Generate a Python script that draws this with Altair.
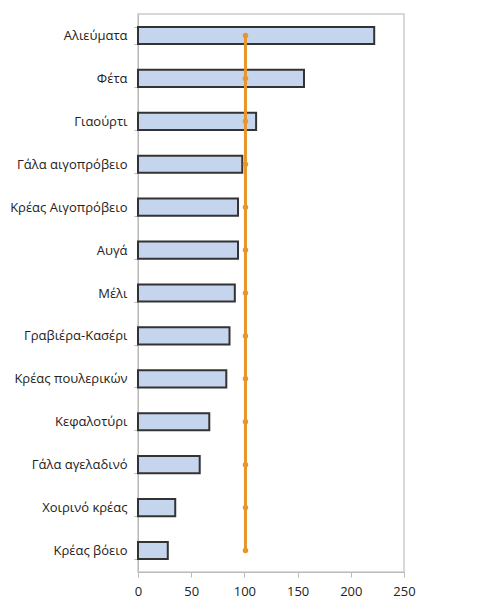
import altair as alt
import pandas as pd

categories = ["Αλιεύματα", "Φέτα", "Γιαούρτι", "Γάλα αιγοπρόβειο", "Κρέας Αιγοπρόβειο",
              "Αυγά", "Μέλι", "Γραβιέρα-Κασέρι", "Κρέας πουλερικών", "Κεφαλοτύρι",
              "Γάλα αγελαδινό", "Χοιρινό κρέας", "Κρέας βόειο"]
values = [222, 156, 111, 98, 94, 94, 91, 86, 83, 67, 58, 35, 28]
line_values = [101] * len(categories)

df = pd.DataFrame({"cat": categories, "val": values, "ref": line_values})

xscale = alt.Scale(domain=[0, 250], nice=False)

y = alt.Y("cat:N", sort=categories, title=None,
          scale=alt.Scale(paddingInner=0.6, paddingOuter=0.3),
          axis=alt.Axis(tickBand="extent", tickSize=4, tickColor="#bbbbbb",
                        domainColor="#bbbbbb", labelColor="#222222", labelFontSize=13,
                        labelFont="Open Sans", labelPadding=7, grid=False))

bars = alt.Chart(df).mark_bar(fill="#C5D5EE", stroke="#333333", strokeWidth=2).encode(
    x=alt.X("val:Q", title=None, scale=xscale,
            axis=alt.Axis(values=[0, 50, 100, 150, 200, 250], tickSize=5, tickColor="#bbbbbb",
                          domainColor="#bbbbbb", labelColor="#222222", labelFontSize=13,
                          labelFont="Open Sans", labelPadding=8, labelFlush=False, grid=False)),
    y=y,
)

line = alt.Chart(df).mark_line(color="#E8962A", strokeWidth=3,
                               point=alt.OverlayMarkDef(color="#E8962A", size=30, filled=True)).encode(
    x=alt.X("ref:Q", scale=xscale),
    y=alt.Y("cat:N", sort=categories),
)

chart = alt.layer(bars, line).properties(
    width=266, height=558,
    autosize=alt.AutoSizeParams(type="none"),
    padding={"left": 130, "top": 6, "right": 50, "bottom": 30},
).configure_view(stroke="#cccccc", strokeWidth=1.5)

chart.save("out.html", embed_options={"renderer": "svg", "actions": False})
